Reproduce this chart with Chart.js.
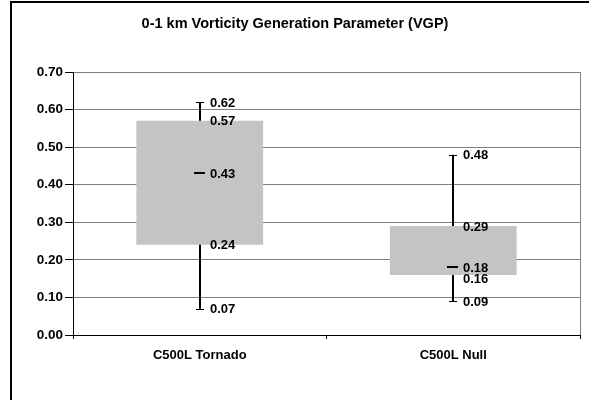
<!DOCTYPE html>
<html>
<head>
<meta charset="utf-8">
<script src="https://cdn.jsdelivr.net/npm/chart.js@4"></script>
<style>
  html, body { margin: 0; padding: 0; background: #fff; }
  #wrap { width: 589px; height: 400px; }
</style>
</head>
<body>
<div id="wrap"><canvas id="vgpChart" width="589" height="400"></canvas></div>
<script>
// box plot stats
const categories = ['C500L Tornado', 'C500L Null'];
const minVals = [0.07, 0.09];
const q1Vals = [0.24, 0.16];
const medianVals = [0.43, 0.18];
const q3Vals = [0.57, 0.29];
const maxVals = [0.62, 0.48];
const yTicks = [0, 0.1, 0.2, 0.3, 0.4, 0.5, 0.6, 0.7];

const FONT = 'Arial, "Liberation Sans", sans-serif';

// outer frame (left + top only, like the cropped original)
const framePlugin = {
    id: 'frame',
    afterDraw(chart) {
        const ctx = chart.ctx;
        const area = chart.chartArea;
        ctx.save();
        ctx.strokeStyle = '#000';
        ctx.lineWidth = 2;
        ctx.beginPath();
        ctx.moveTo(11, 400);
        ctx.lineTo(11, 2);
        ctx.lineTo(589, 2);
        ctx.stroke();
        // right edge of plot area
        ctx.strokeStyle = '#808080';
        ctx.lineWidth = 1;
        ctx.beginPath();
        ctx.moveTo(Math.round(area.right) + 0.5, area.top);
        ctx.lineTo(Math.round(area.right) + 0.5, area.bottom);
        ctx.stroke();
        ctx.restore();
    }
};

// whiskers behind the boxes, medians + value labels on top
const boxPlugin = {
    id: 'boxExtras',
    beforeDatasetsDraw(chart) {
        const ctx = chart.ctx;
        const x = chart.scales.x;
        const y = chart.scales.y;
        ctx.save();
        ctx.strokeStyle = '#000';
        categories.forEach((c, i) => {
            const cx = Math.round(x.getPixelForValue(i));
            const top = y.getPixelForValue(maxVals[i]);
            const bot = y.getPixelForValue(minVals[i]);
            ctx.lineWidth = 2;
            ctx.beginPath();
            ctx.moveTo(cx, top);
            ctx.lineTo(cx, bot);
            ctx.stroke();
            ctx.lineWidth = 1;
            ctx.beginPath();
            ctx.moveTo(cx - 4, Math.round(top) + 0.5);
            ctx.lineTo(cx + 4, Math.round(top) + 0.5);
            ctx.moveTo(cx - 4, Math.round(bot) + 0.5);
            ctx.lineTo(cx + 4, Math.round(bot) + 0.5);
            ctx.stroke();
        });
        ctx.restore();
    },
    afterDatasetsDraw(chart) {
        const ctx = chart.ctx;
        const x = chart.scales.x;
        const y = chart.scales.y;
        ctx.save();
        ctx.font = 'bold 13px ' + FONT;
        ctx.fillStyle = '#000';
        ctx.textAlign = 'left';
        ctx.textBaseline = 'middle';
        categories.forEach((c, i) => {
            const cx = Math.round(x.getPixelForValue(i));
            const my = Math.round(y.getPixelForValue(medianVals[i]));
            ctx.fillRect(cx - 6, my - 1, 11, 2);

            const vals = [maxVals[i], q3Vals[i], medianVals[i], q1Vals[i], minVals[i]];
            let lastY = -100;
            vals.forEach(v => {
                let ly = y.getPixelForValue(v);
                if (ly - lastY < 11) ly = lastY + 11;
                lastY = ly;
                ctx.fillText(v.toFixed(2), cx + 10, ly + 1);
            });
        });
        ctx.restore();
    }
};

new Chart(document.getElementById('vgpChart'), {
    type: 'bar',
    data: {
        labels: categories,
        datasets: [{
            data: categories.map((c, i) => [q1Vals[i], q3Vals[i]]),
            backgroundColor: '#c4c4c4',
            borderWidth: 0,
            barPercentage: 0.5,
            categoryPercentage: 1.0
        }]
    },
    options: {
        responsive: false,
        animation: false,
        layout: { padding: { left: 10, right: 9, top: 0, bottom: 35 } },
        plugins: {
            legend: { display: false },
            tooltip: { enabled: false },
            title: {
                display: true,
                text: '0-1 km Vorticity Generation Parameter (VGP)',
                color: '#000',
                font: { family: FONT, size: 14.5, weight: 'bold' },
                padding: { top: 15, bottom: 39.6 }
            }
        },
        scales: {
            x: {
                grid: {
                    drawOnChartArea: false,
                    color: '#000',
                    tickLength: 4,
                    offset: true
                },
                border: { color: '#000', width: 1 },
                ticks: {
                    color: '#000',
                    font: { family: FONT, size: 13, weight: 'bold' },
                    padding: 9
                },
                afterFit(s) { s.height = 30; }
            },
            y: {
                min: 0,
                max: 0.7,
                afterBuildTicks(s) { s.ticks = yTicks.map(v => ({ value: v })); },
                grid: {
                    color: '#808080',
                    tickColor: '#000',
                    tickLength: 8
                },
                border: { color: '#000', width: 1 },
                ticks: {
                    color: '#000',
                    font: { family: FONT, size: 13.5, weight: 'bold' },
                    padding: 2,
                    callback: v => Number(v).toFixed(2)
                },
                afterFit(s) { s.width = 63; }
            }
        }
    },
    plugins: [framePlugin, boxPlugin]
});
</script>
</body>
</html>
